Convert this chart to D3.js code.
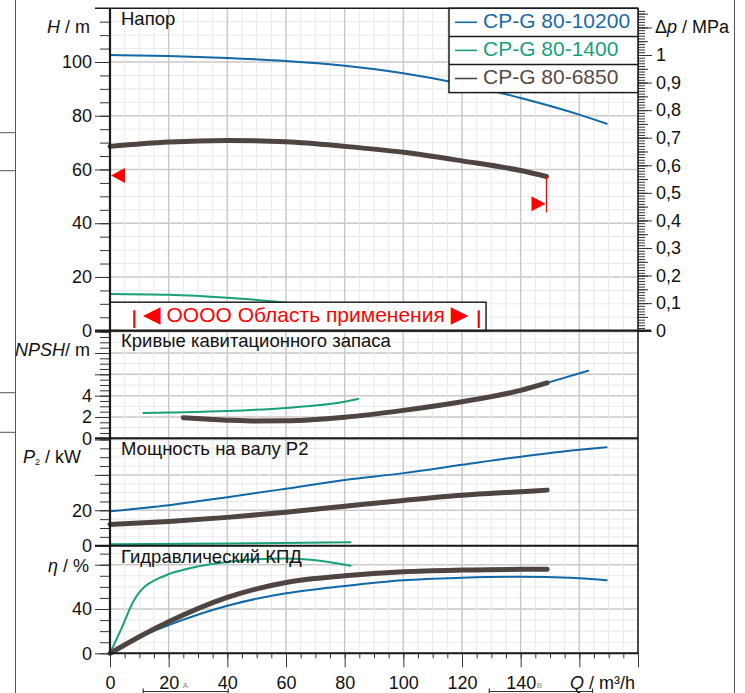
<!DOCTYPE html>
<html><head><meta charset="utf-8">
<script src="https://cdn.jsdelivr.net/npm/d3@7"></script>
<style>
body{margin:0;background:#fff;}
svg{display:block;font-family:"Liberation Sans",Arial,Helvetica,sans-serif;}
</style></head><body>
<svg id="c" width="745" height="693"></svg>
<script>
// ---------------- DATA ----------------
const seriesNames = ["CP-G 80-10200", "CP-G 80-1400", "CP-G 80-6850"];

// Head H [m] vs Q [m3/h]
const qHead10200 = [0, 20, 40, 60, 80, 100, 120, 140, 160, 169.3];
const head10200  = [102.6, 102.2, 101.5, 100.4, 98.6, 95.8, 91.8, 86.6, 80.4, 77.0];
const qHead1400  = [0, 20, 40, 57, 70, 82];
const head1400   = [13.7, 13.4, 12.3, 10.8, 9.3, 7.6];
const qHead6850  = [0, 20, 40, 60, 80, 100, 120, 140, 148.8];
const head6850   = [68.6, 70.2, 70.8, 70.3, 68.6, 66.4, 63.2, 59.6, 57.4];

// NPSH [m]
const qNpsh10200 = [25, 40, 50, 60, 80, 100, 120, 140, 149, 163];
const npsh10200  = [1.93, 1.7, 1.62, 1.64, 1.98, 2.62, 3.43, 4.5, 5.2, 6.34];
const qNpsh1400  = [11.4, 20, 40, 60, 80, 84.6];
const npsh1400   = [2.37, 2.42, 2.56, 2.85, 3.43, 3.68];
const qNpsh6850  = [25, 40, 50, 60, 80, 100, 120, 140, 149];
const npsh6850   = [1.93, 1.7, 1.62, 1.64, 1.98, 2.62, 3.43, 4.5, 5.2];

// Shaft power P2 [kW]
const qP2_10200 = [0, 20, 40, 60, 80, 100, 120, 140, 160, 169.3];
const p2_10200  = [19.4, 22.9, 27.4, 32.2, 37.1, 41.0, 45.7, 50.3, 54.2, 55.6];
const qP2_1400  = [0, 40, 82];
const p2_1400   = [0.8, 1.3, 1.9];
const qP2_6850  = [0, 20, 40, 60, 80, 100, 120, 140, 149];
const p2_6850   = [12.0, 13.7, 16.0, 18.9, 22.3, 25.6, 28.5, 30.5, 31.4];

// Hydraulic efficiency [%]
const qEta10200 = [0, 10, 20, 40, 60, 80, 100, 120, 140, 149, 160, 169.3];
const eta10200  = [0, 14.5, 25.5, 43, 54.2, 60.8, 66.0, 68.2, 69.1, 68.9, 67.7, 65.9];
const qEta1400  = [0, 4, 8, 10, 12, 16, 20, 30, 40, 50, 60, 70, 82];
const eta1400   = [0, 23, 47, 55, 60.5, 67, 71.5, 78.5, 82.5, 85, 85.5, 84, 79];
const qEta6850  = [0, 10, 20, 40, 60, 80, 100, 120, 140, 149];
const eta6850   = [0, 15, 28.5, 50.5, 64, 70, 73.7, 75.2, 75.8, 75.8];

// Tick labels
const qTickLabels   = [0, 20, 40, 60, 80, 100, 120, 140];
const hTickLabels   = [0, 20, 40, 60, 80, 100];
const dpTickLabels  = [0, 0.1, 0.2, 0.3, 0.4, 0.5, 0.6, 0.7, 0.8, 0.9, 1];
const npshTickLabels = [0, 2, 4];
const p2TickLabels  = [0, 20];
const etaTickLabels = [0, 40];

// Operating range of selected pump (Q), marker heads
const rangeQ      = [0, 148.8];
const rangeHeadTop = [68.6, 57.4];
const rangeHeadBot = [55.4, 44.0];
const rangeHeadArrow = [57.8, 47.2];
const applicationText = ["◀", " OOOO Область применения ", "▶"];

// ---------------- LAYOUT ----------------
const colors = ["#1068a8", "#18a07c", "#4f4540"];
const textColors = ["#1a6aa6", "#18a07c", "#574a43"];
const widths = [2, 2, 5];

const svg = d3.select("#c");
const X0 = 110, X1 = 638;
const x = d3.scaleLinear([0, 180], [X0, X1]);

const P = [
  {top: 8.3,   bot: 330.7, y: d3.scaleLinear([0, 100], [330.7, 62]),   minor: 5,   major: 20, gminor: 5,  gmajor: 20},
  {top: 330.7, bot: 438.3, y: d3.scaleLinear([0, 8],   [438.3, 353]),  minor: 0.5, major: 2,  gminor: 1,  gmajor: 2},
  {top: 438.3, bot: 545.7, y: d3.scaleLinear([0, 20],  [545.7, 510.3]), minor: 5,  major: 20, gminor: 5,  gmajor: 20},
  {top: 545.7, bot: 653.3, y: d3.scaleLinear([0, 40],  [653.3, 609]),  minor: 10,  major: 40, gminor: 10, gmajor: 40}
];
const yDp = d3.scaleLinear([0, 1], [330.7, 55]);

function stepRange(step, max) {
  const out = [];
  for (let i = 0; i * step <= max + 1e-9; i++) out.push(+(i * step).toFixed(4));
  return out;
}

// ---- grid ----
const grid = svg.append("g");
P.forEach(p => {
  const maxV = p.y.invert(p.top);
  stepRange(p.gminor, maxV).forEach(v => {
    const isMajor = Math.abs(v / p.gmajor - Math.round(v / p.gmajor)) < 1e-6;
    grid.append("line").attr("x1", X0).attr("x2", X1)
      .attr("y1", p.y(v)).attr("y2", p.y(v))
      .attr("stroke", isMajor ? "#c9c9c9" : "#e9e9e9").attr("stroke-width", isMajor ? 1.5 : 1);
  });
});
stepRange(5, 180).forEach(q => {
  const isMajor = q % 20 === 0;
  grid.append("line").attr("x1", x(q)).attr("x2", x(q)).attr("y1", 8.3).attr("y2", 653.3)
    .attr("stroke", isMajor ? "#c9c9c9" : "#e9e9e9").attr("stroke-width", isMajor ? 1.5 : 1);
});

// ---- curves ----
const curves = [
  [[qHead10200, head10200], [qHead1400, head1400], [qHead6850, head6850]],
  [[qNpsh10200, npsh10200], [qNpsh1400, npsh1400], [qNpsh6850, npsh6850]],
  [[qP2_10200, p2_10200], [qP2_1400, p2_1400], [qP2_6850, p2_6850]],
  [[qEta10200, eta10200], [qEta1400, eta1400], [qEta6850, eta6850]]
];
const cg = svg.append("g");
curves.forEach((set, pi) => {
  const yS = P[pi].y;
  const gen = d3.line().x(d => x(d[0])).y(d => yS(d[1])).curve(d3.curveMonotoneX);
  set.forEach((s, si) => {
    const pts = s[0].map((q, i) => [q, s[1][i]]);
    cg.append("path").attr("d", gen(pts)).attr("fill", "none")
      .attr("stroke", colors[si]).attr("stroke-width", widths[si])
      .attr("stroke-linecap", "round").attr("stroke-linejoin", "round");
  });
});

// ---- operating range markers ----
const yH = P[0].y;
const mk = svg.append("g").attr("fill", "#ff0000").attr("stroke", "none");
rangeQ.forEach((q, i) => {
  mk.append("line").attr("x1", x(q)).attr("x2", x(q))
    .attr("y1", yH(rangeHeadTop[i])).attr("y2", yH(rangeHeadBot[i]))
    .attr("stroke", "#ff0000").attr("stroke-width", 1.2);
  const ty = yH(rangeHeadArrow[i]);
  const tx = i === 0 ? x(q) + 1 : x(q) - 1;
  const dir = i === 0 ? 1 : -1;
  mk.append("path").attr("d", `M${tx},${ty} L${tx + dir * 14},${ty - 7.5} L${tx + dir * 14},${ty + 7.5} Z`);
});

// ---- application range box ----
const box = svg.append("g");
box.append("rect").attr("x", x(0)).attr("y", yH(10.6)).attr("width", x(128.2) - x(0))
  .attr("height", yH(0) - yH(10.6)).attr("fill", "#fff").attr("stroke", "#222").attr("stroke-width", 1.5);
[8.3, 125.7].forEach(q => {
  box.append("line").attr("x1", x(q)).attr("x2", x(q)).attr("y1", yH(7.6)).attr("y2", yH(1))
    .attr("stroke", "#ff0000").attr("stroke-width", 2.2);
});
const appT = box.append("text").attr("x", x(66.7)).attr("y", yH(3.35)).attr("text-anchor", "middle")
  .attr("font-size", 21).attr("fill", "#ff0000");
appT.append("tspan").attr("font-family", "DejaVu Sans").attr("font-size", 23).text(applicationText[0]);
appT.append("tspan").text(applicationText[1]);
appT.append("tspan").attr("font-family", "DejaVu Sans").attr("font-size", 23).text(applicationText[2]);

// ---- axes ----
const axisStyle = g => {
  g.select(".domain").remove();
  g.selectAll(".tick line").attr("stroke", "#333").attr("stroke-width", 1);
  g.selectAll("text").attr("font-size", 18).attr("fill", "#111")
    .attr("font-family", '"Liberation Sans",Arial,sans-serif');
};
P.forEach((p, pi) => {
  const maxV = p.y.invert(p.top);
  const minorVals = stepRange(p.minor, maxV);
  svg.append("g").attr("transform", `translate(${X0},0)`)
    .call(d3.axisLeft(p.y).tickValues(minorVals).tickSize(10).tickFormat(""))
    .call(axisStyle);
  const labels = [hTickLabels, npshTickLabels, p2TickLabels, etaTickLabels][pi];
  const majorVals = stepRange(p.major, maxV);
  svg.append("g").attr("transform", `translate(${X0},0)`)
    .call(d3.axisLeft(p.y).tickValues(majorVals).tickSize(15).tickPadding(3)
      .tickFormat(d => labels.includes(d) ? d : ""))
    .call(axisStyle);
});

// right Δp axis
const dpMax = yDp.invert(8.3);
const fmtDp = d => String(Math.round(d * 10) / 10).replace(".", ",");
svg.append("g").attr("transform", `translate(${X1},0)`)
  .call(d3.axisRight(yDp).tickValues(stepRange(0.01, dpMax)).tickSize(7).tickFormat(""))
  .call(axisStyle);
svg.append("g").attr("transform", `translate(${X1},0)`)
  .call(d3.axisRight(yDp).tickValues(stepRange(0.05, dpMax)).tickSize(10).tickFormat(""))
  .call(axisStyle);
svg.append("g").attr("transform", `translate(${X1},0)`)
  .call(d3.axisRight(yDp).tickValues(stepRange(0.1, dpMax)).tickSize(14).tickPadding(4)
    .tickFormat(d => dpTickLabels.some(v => Math.abs(v - d) < 1e-6) ? fmtDp(d) : ""))
  .call(axisStyle);

// bottom Q axis
svg.append("g").attr("transform", `translate(0,653.3)`)
  .call(d3.axisBottom(x).tickValues(stepRange(5, 180)).tickSize(5).tickFormat(""))
  .call(axisStyle);
svg.append("g").attr("transform", `translate(0,653.3)`)
  .call(d3.axisBottom(x).tickValues(stepRange(20, 180)).tickSize(14).tickPadding(9)
    .tickFormat(d => qTickLabels.includes(d) ? d : ""))
  .call(axisStyle);

// ---- frame lines ----
const fr = svg.append("g").attr("stroke", "#1a1a1a");
fr.append("line").attr("x1", 95).attr("x2", X1).attr("y1", 8.3).attr("y2", 8.3).attr("stroke-width", 1.5);
fr.append("line").attr("x1", 95).attr("x2", 651).attr("y1", 330.7).attr("y2", 330.7).attr("stroke-width", 2.2);
fr.append("line").attr("x1", 95).attr("x2", X1).attr("y1", 438.3).attr("y2", 438.3).attr("stroke-width", 2);
fr.append("line").attr("x1", 95).attr("x2", X1).attr("y1", 545.7).attr("y2", 545.7).attr("stroke-width", 2);
fr.append("line").attr("x1", X0 - 1).attr("x2", X1).attr("y1", 653.3).attr("y2", 653.3).attr("stroke-width", 2);
fr.append("line").attr("x1", X0).attr("x2", X0).attr("y1", 8.3).attr("y2", 654).attr("stroke-width", 2.2);
fr.append("line").attr("x1", X1).attr("x2", X1).attr("y1", 8.3).attr("y2", 654).attr("stroke-width", 1.5);

// page decoration lines
const dec = svg.append("g").attr("stroke", "#555").attr("stroke-width", 1);
dec.append("line").attr("x1", 15.5).attr("x2", 15.5).attr("y1", 0).attr("y2", 693);
dec.append("line").attr("x1", 734.5).attr("x2", 734.5).attr("y1", 0).attr("y2", 693);
[132.7, 170.7, 392.7, 432.3].forEach(yy => dec.append("line").attr("x1", 0).attr("x2", 15.5).attr("y1", yy).attr("y2", yy));

// ---- titles ----
const tt = svg.append("g").attr("font-size", 18.5).attr("fill", "#111");
[["Напор", 25], ["Кривые кавитационного запаса", 347], ["Мощность на валу P2", 455], ["Гидравлический КПД", 563.3]]
  .forEach(([t, yy]) => tt.append("text").attr("x", 121).attr("y", yy).text(t));

// axis titles
const at = svg.append("g").attr("font-size", 18).attr("fill", "#111");
let t;
t = at.append("text").attr("x", 90).attr("y", 33.3).attr("text-anchor", "end");
t.append("tspan").attr("font-style", "italic").text("H"); t.append("tspan").text(" / m");
t = at.append("text").attr("x", 90).attr("y", 356).attr("text-anchor", "end");
t.append("tspan").attr("font-style", "italic").text("NPSH"); t.append("tspan").text("/ m");
t = at.append("text").attr("x", 81).attr("y", 463).attr("text-anchor", "end");
t.append("tspan").attr("font-style", "italic").text("P");
t.append("tspan").attr("font-size", 9).attr("dy", 2).text("2");
t.append("tspan").attr("dy", -2).text("  / kW");
t = at.append("text").attr("x", 89).attr("y", 571.7).attr("text-anchor", "end");
t.append("tspan").attr("font-style", "italic").text("η"); t.append("tspan").text(" / %");
t = at.append("text").attr("x", 655).attr("y", 33.3);
t.append("tspan").text("Δ"); t.append("tspan").attr("font-style", "italic").text("p"); t.append("tspan").text(" / MPa");
t = at.append("text").attr("x", 635).attr("y", 689).attr("text-anchor", "end");
t.append("tspan").attr("font-style", "italic").text("Q"); t.append("tspan").text(" / m³/h");

// small markers A / B and bottom range arrows
at.append("text").attr("x", x(20) + 14).attr("y", 688).attr("font-size", 8).attr("fill", "#888").text("A");
at.append("text").attr("x", x(140) + 16).attr("y", 688).attr("font-size", 8).attr("fill", "#888").text("B");
const ar = svg.append("g").attr("stroke", "#333").attr("stroke-width", 1.2);
[[11.3, 40.3], [129.3, 164.5]].forEach(([a, b]) => {
  ar.append("line").attr("x1", x(a)).attr("x2", x(b)).attr("y1", 691.5).attr("y2", 691.5);
  ar.append("line").attr("x1", x(a)).attr("x2", x(a)).attr("y1", 688.5).attr("y2", 693);
  ar.append("line").attr("x1", x(b)).attr("x2", x(b)).attr("y1", 688.5).attr("y2", 693);
});

// ---- legend ----
const lg = svg.append("g");
const LX = 449, LY = 8.3, LW = X1 - 449, RH = 28.1;
lg.append("rect").attr("x", LX).attr("y", LY).attr("width", LW).attr("height", RH * 3)
  .attr("fill", "#fff").attr("stroke", "#1a1a1a").attr("stroke-width", 1.5);
seriesNames.forEach((name, i) => {
  const ry = LY + i * RH;
  if (i > 0) lg.append("line").attr("x1", LX).attr("x2", LX + LW).attr("y1", ry).attr("y2", ry)
    .attr("stroke", "#1a1a1a").attr("stroke-width", 1.5);
  lg.append("line").attr("x1", LX + 6).attr("x2", LX + 28).attr("y1", ry + 14).attr("y2", ry + 14)
    .attr("stroke", colors[i]).attr("stroke-width", 1.6);
  lg.append("text").attr("x", LX + 34).attr("y", ry + 19.5).attr("font-size", 21)
    .attr("fill", textColors[i]).text(name);
});
</script>
</body></html>
